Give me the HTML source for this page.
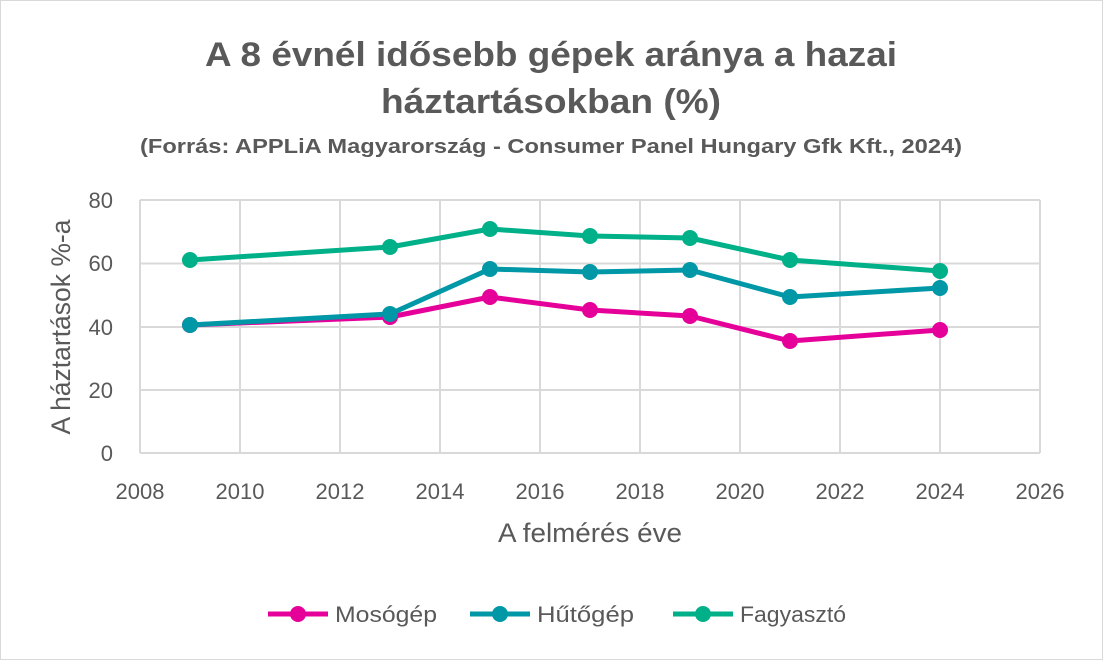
<!DOCTYPE html>
<html><head><meta charset="utf-8"><style>
body{margin:0;background:#fff;}
svg text{font-family:"Liberation Sans",sans-serif;}
</style></head><body>
<svg width="1103" height="660" viewBox="0 0 1103 660" xmlns="http://www.w3.org/2000/svg">
<rect x="0.5" y="0.5" width="1102" height="659" fill="#fff" stroke="#d9d9d9"/>
<text x="551" y="66" text-anchor="middle" font-size="34" font-weight="bold" fill="#595959" textLength="692" lengthAdjust="spacingAndGlyphs">A 8 évnél idősebb gépek aránya a hazai</text>
<text x="551" y="113" text-anchor="middle" font-size="34" font-weight="bold" fill="#595959" textLength="340" lengthAdjust="spacingAndGlyphs">háztartásokban (%)</text>
<text x="551" y="153" text-anchor="middle" font-size="20" font-weight="bold" fill="#595959" textLength="822" lengthAdjust="spacingAndGlyphs">(Forrás: APPLiA Magyarország - Consumer Panel Hungary Gfk Kft., 2024)</text>
<g stroke="#d9d9d9" stroke-width="2">
<line x1="140" y1="200" x2="1040" y2="200"/><line x1="140" y1="263.5" x2="1040" y2="263.5"/><line x1="140" y1="327" x2="1040" y2="327"/><line x1="140" y1="390" x2="1040" y2="390"/><line x1="140" y1="453" x2="1040" y2="453"/>
<line x1="140" y1="200" x2="140" y2="453"/><line x1="240" y1="200" x2="240" y2="453"/><line x1="340" y1="200" x2="340" y2="453"/><line x1="440" y1="200" x2="440" y2="453"/><line x1="540" y1="200" x2="540" y2="453"/><line x1="640" y1="200" x2="640" y2="453"/><line x1="740" y1="200" x2="740" y2="453"/><line x1="840" y1="200" x2="840" y2="453"/><line x1="940" y1="200" x2="940" y2="453"/><line x1="1040" y1="200" x2="1040" y2="453"/>
</g>
<g font-size="22" fill="#595959" text-anchor="end">
<text x="113" y="208">80</text><text x="113" y="271">60</text><text x="113" y="335">40</text><text x="113" y="398">20</text><text x="113" y="461">0</text>
</g>
<g font-size="22" fill="#595959" text-anchor="middle">
<text x="140" y="499">2008</text><text x="240" y="499">2010</text><text x="340" y="499">2012</text><text x="440" y="499">2014</text><text x="540" y="499">2016</text><text x="640" y="499">2018</text><text x="740" y="499">2020</text><text x="840" y="499">2022</text><text x="940" y="499">2024</text><text x="1040" y="499">2026</text>
<text x="590" y="542" font-size="27" textLength="184" lengthAdjust="spacingAndGlyphs">A felmérés éve</text>
<text transform="translate(70,327) rotate(-90)" font-size="27" textLength="215" lengthAdjust="spacingAndGlyphs">A háztartások %-a</text>
</g>
<g fill="none" stroke-width="5" stroke-linejoin="round">
<polyline stroke="#00B088" points="190,260 390,247 490,229 590,236 690,238 790,260 940,271"/>
<polyline stroke="#E6009A" points="190,325 390,317 490,297 590,310 690,316 790,341 940,330"/>
<polyline stroke="#0097A7" points="190,325 390,314 490,269 590,272 690,270 790,297 940,288"/>
</g>
<g fill="#00B088"><circle cx="190" cy="260" r="8"/><circle cx="390" cy="247" r="8"/><circle cx="490" cy="229" r="8"/><circle cx="590" cy="236" r="8"/><circle cx="690" cy="238" r="8"/><circle cx="790" cy="260" r="8"/><circle cx="940" cy="271" r="8"/></g>
<g fill="#E6009A"><circle cx="190" cy="325" r="8"/><circle cx="390" cy="317" r="8"/><circle cx="490" cy="297" r="8"/><circle cx="590" cy="310" r="8"/><circle cx="690" cy="316" r="8"/><circle cx="790" cy="341" r="8"/><circle cx="940" cy="330" r="8"/></g>
<g fill="#0097A7"><circle cx="190" cy="325" r="8"/><circle cx="390" cy="314" r="8"/><circle cx="490" cy="269" r="8"/><circle cx="590" cy="272" r="8"/><circle cx="690" cy="270" r="8"/><circle cx="790" cy="297" r="8"/><circle cx="940" cy="288" r="8"/></g>
<g font-size="22" fill="#595959">
<line x1="268" y1="614" x2="328" y2="614" stroke="#E6009A" stroke-width="5"/><circle cx="298" cy="614" r="8" fill="#E6009A"/><text x="335" y="622" textLength="102" lengthAdjust="spacingAndGlyphs">Mosógép</text>
<line x1="470" y1="614" x2="530" y2="614" stroke="#0097A7" stroke-width="5"/><circle cx="500" cy="614" r="8" fill="#0097A7"/><text x="537" y="622" textLength="97" lengthAdjust="spacingAndGlyphs">Hűtőgép</text>
<line x1="673" y1="614" x2="733" y2="614" stroke="#00B088" stroke-width="5"/><circle cx="703" cy="614" r="8" fill="#00B088"/><text x="740" y="622" textLength="106" lengthAdjust="spacingAndGlyphs">Fagyasztó</text>
</g>
</svg>
</body></html>
